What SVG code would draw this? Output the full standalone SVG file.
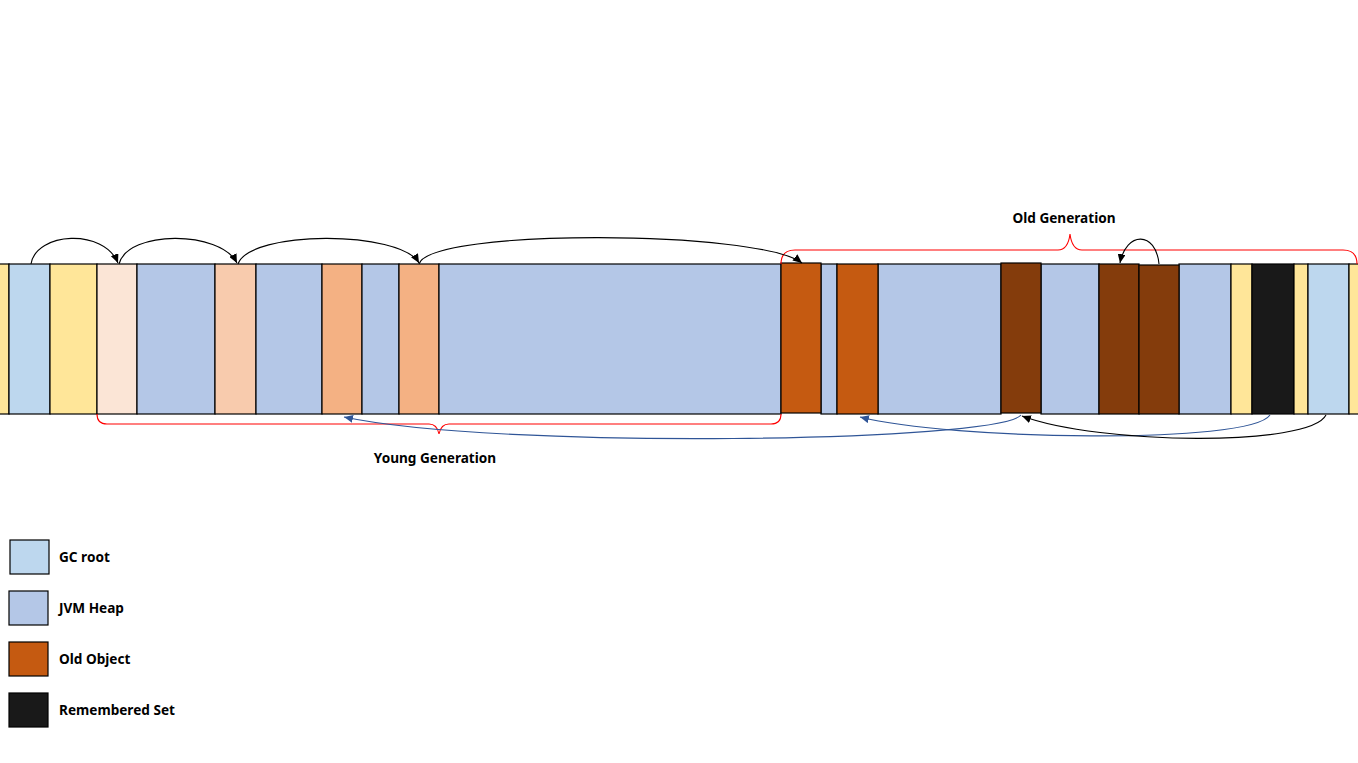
<svg xmlns="http://www.w3.org/2000/svg" width="1358" height="763" viewBox="0 0 1358 763">
<style>
.seg{stroke:#000;stroke-width:1.2}
.yel{fill:#FFE699}.root{fill:#BDD7EE}.heap{fill:#B4C7E7}.p1{fill:#FBE5D6}.p2{fill:#F8CBAD}.p3{fill:#F4B183}.old{fill:#C55A11}.old2{fill:#843C0C}.rs{fill:#191919}
.lbl{font-family:"Noto Sans","Liberation Sans",sans-serif;font-weight:bold;font-size:13.6px;fill:#000}
.blk{fill:none;stroke:#000;stroke-width:1.1}
.blu{fill:none;stroke:#2F5597;stroke-width:1.1}
.brace{fill:none;stroke:#FF0000;stroke-width:1.1}
</style>
<defs>
<marker id="ab" markerUnits="userSpaceOnUse" markerWidth="10" markerHeight="8" refX="9" refY="4" orient="auto"><path d="M0,0 L9,4 L0,8 z" fill="#000"/></marker>
<marker id="au" markerUnits="userSpaceOnUse" markerWidth="10" markerHeight="8" refX="9" refY="4" orient="auto"><path d="M0,0 L9,4 L0,8 z" fill="#2F5597"/></marker>
</defs>
<rect width="1358" height="763" fill="#fff"/>
<g id="heap">
<rect class="seg yel" x="-1" y="264" width="10" height="150"/>
<rect class="seg root" x="9" y="264" width="41" height="150"/>
<rect class="seg yel" x="50" y="264" width="47" height="150"/>
<rect class="seg p1" x="97" y="264" width="40" height="150"/>
<rect class="seg heap" x="137" y="264" width="78" height="150"/>
<rect class="seg p2" x="215" y="264" width="41" height="150"/>
<rect class="seg heap" x="256" y="264" width="66" height="150"/>
<rect class="seg p3" x="322" y="264" width="40" height="150"/>
<rect class="seg heap" x="362" y="264" width="37" height="150"/>
<rect class="seg p3" x="399" y="264" width="40" height="150"/>
<rect class="seg heap" x="439" y="264" width="342" height="150"/>
<rect class="seg heap" x="821" y="264" width="16" height="150"/>
<rect class="seg heap" x="878" y="264" width="123" height="150"/>
<rect class="seg heap" x="1041" y="264" width="58" height="150"/>
<rect class="seg heap" x="1179" y="264" width="52" height="150"/>
<rect class="seg yel" x="1231" y="264" width="21" height="150"/>
<rect class="seg rs" x="1252" y="264" width="42" height="150"/>
<rect class="seg yel" x="1294" y="264" width="14" height="150"/>
<rect class="seg root" x="1308" y="264" width="41" height="150"/>
<rect class="seg yel" x="1349" y="264" width="10" height="150"/>
</g>
<g id="old1"><rect class="seg old" x="781" y="263" width="40" height="150"/></g>
<g id="old2"><rect class="seg old" x="837" y="264" width="41" height="150"/></g>
<g id="old3"><rect class="seg old2" x="1001" y="263" width="40" height="150"/></g>
<g id="old4"><rect class="seg old2" x="1099" y="264" width="40" height="150"/></g>
<g id="old5"><rect class="seg old2" x="1139" y="265" width="40" height="149"/></g>
<g id="braces">
<path class="brace" d="M781,264 Q781,250 795,250 L1058,250 Q1068,250 1070,234 Q1072,250 1082,250 L1343,250 Q1357,250 1357,264"/>
<path class="brace" d="M97,414 Q97,424 107,424 L429,424 Q437,424 439,434 Q441,424 449,424 L771,424 Q781,424 781,414"/>
<text class="lbl" x="1064" y="223" text-anchor="middle">Old Generation</text>
<text class="lbl" x="435" y="463" text-anchor="middle">Young Generation</text>
</g>
<g id="connectors">
<path class="blk" d="M31,264 C36,232 104,228 118,263" marker-end="url(#ab)"/>
<path class="blk" d="M119,264 C128,230 220,230 237,263" marker-end="url(#ab)"/>
<path class="blk" d="M238,264 C250,230 400,230 419,263" marker-end="url(#ab)"/>
<path class="blk" d="M419,264 C430,228 760,230 802,263" marker-end="url(#ab)"/>
<path class="blk" d="M1159,264 C1156,231 1126,231 1120,263" marker-end="url(#ab)"/>
<path class="blu" d="M1021,415 C1000,442 500,450 344,417" marker-end="url(#au)"/>
<path class="blu" d="M1270,415 C1250,445 950,440 860,417" marker-end="url(#au)"/>
<path class="blk" d="M1326,415 C1310,447 1100,445 1022,416" marker-end="url(#ab)"/>
</g>
<g id="legend">
<rect class="seg root" x="10" y="540" width="39" height="34"/>
<text class="lbl" x="59" y="562">GC root</text>
<rect class="seg heap" x="9" y="591" width="39" height="34"/>
<text class="lbl" x="59" y="613">JVM Heap</text>
<rect class="seg old" x="9" y="642" width="39" height="34"/>
<text class="lbl" x="59" y="664">Old Object</text>
<rect class="seg rs" x="9" y="693" width="39" height="34"/>
<text class="lbl" x="59" y="715">Remembered Set</text>
</g>
</svg>
